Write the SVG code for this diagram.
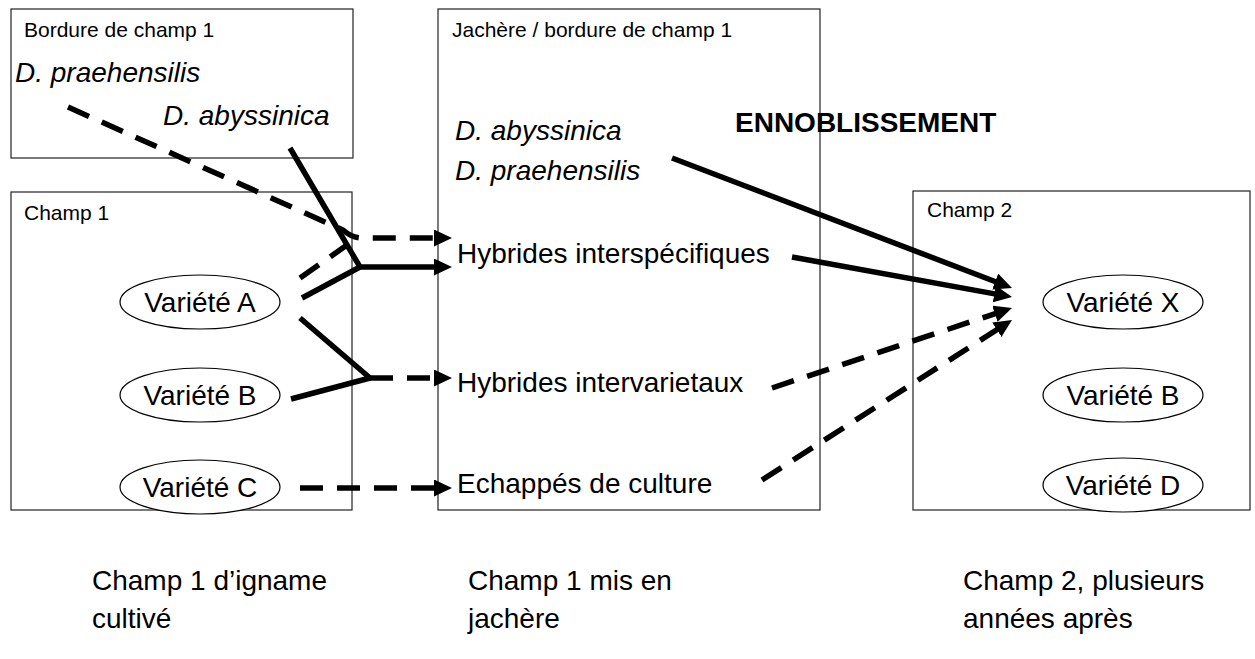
<svg xmlns="http://www.w3.org/2000/svg" width="1255" height="659" viewBox="0 0 1255 659">
<style>
text{font-family:"Liberation Sans",Arial,sans-serif;fill:#000}
.lbl{font-size:21px}
.t{font-size:28px}
.it{font-size:28px;font-style:italic}
.b{font-size:28px;font-weight:bold}
.box{fill:none;stroke:#222;stroke-width:1.2}
.ell{fill:#fff;stroke:#000;stroke-width:1.2}
.c{fill:none;stroke:#000;stroke-width:5.5}
.d{stroke-dasharray:23 14}
</style>
<defs>
<marker id="ah" markerUnits="userSpaceOnUse" markerWidth="18" markerHeight="17" viewBox="0 0 18 17" refX="6" refY="8.5" orient="auto">
<path d="M0,0 L18,8.5 L0,17 z" fill="#000"/>
</marker>
</defs>
<g id="bordure">
<rect class="box" x="11" y="9" width="342" height="149"/>
<text class="lbl" x="24" y="37">Bordure de champ 1</text>
<text class="it" x="15" y="82">D. praehensilis</text>
<text class="it" x="163" y="125">D. abyssinica</text>
</g>
<g id="champ1">
<rect class="box" x="11" y="192" width="341" height="318"/>
<text class="lbl" x="24" y="220">Champ 1</text>
</g>
<g id="jachere">
<rect class="box" x="438" y="9" width="382" height="501"/>
<text class="lbl" x="452" y="37">Jachère / bordure de champ 1</text>
<text class="it" x="455" y="140">D. abyssinica</text>
<text class="it" x="455" y="180">D. praehensilis</text>
<text class="t" x="457" y="263">Hybrides interspécifiques</text>
<text class="t" x="457" y="392">Hybrides intervarietaux</text>
<text class="t" x="457" y="493">Echappés de culture</text>
</g>
<g id="champ2">
<rect class="box" x="913" y="191" width="337" height="319"/>
<text class="lbl" x="927" y="217">Champ 2</text>
</g>
<g id="connectors">
<path class="c d" d="M68,107 L343,230 Q352,238 362,238 L440,238" marker-end="url(#ah)"/>
<path class="c" d="M290,148 L360,267 L440,267" marker-end="url(#ah)"/>
<path class="c d" d="M300,278 L347,245"/>
<path class="c" d="M302,298 L360,267"/>
<path class="c" d="M300,318 L370,378 M291,399 L370,378"/>
<path class="c d" d="M370,378 L440,378" marker-end="url(#ah)"/>
<path class="c d" d="M300,488 L440,488" marker-end="url(#ah)"/>
<path class="c" d="M672,158 L1000.8,283.7" marker-end="url(#ah)"/>
<path class="c" d="M792,257 L1000.2,294.9" marker-end="url(#ah)"/>
<path class="c d" d="M772,388 L1000.6,311.8" marker-end="url(#ah)"/>
<path class="c d" d="M762,480 L1001.9,326.5" marker-end="url(#ah)"/>
</g>
<g id="varA"><ellipse class="ell" cx="200" cy="302" rx="80" ry="27"/><text class="t" x="200" y="312" text-anchor="middle">Variété A</text></g>
<g id="varB"><ellipse class="ell" cx="200" cy="395" rx="80" ry="27"/><text class="t" x="200" y="405" text-anchor="middle">Variété B</text></g>
<g id="varC"><ellipse class="ell" cx="200" cy="487" rx="80" ry="27"/><text class="t" x="200" y="497" text-anchor="middle">Variété C</text></g>
<g id="varX"><ellipse class="ell" cx="1123" cy="302" rx="80" ry="27"/><text class="t" x="1123" y="312" text-anchor="middle">Variété X</text></g>
<g id="varB2"><ellipse class="ell" cx="1123" cy="395" rx="80" ry="27"/><text class="t" x="1123" y="405" text-anchor="middle">Variété B</text></g>
<g id="varD"><ellipse class="ell" cx="1123" cy="485" rx="80" ry="27"/><text class="t" x="1123" y="495" text-anchor="middle">Variété D</text></g>
<g id="ennoblissement"><text class="b" x="735" y="132">ENNOBLISSEMENT</text></g>
<g id="captions">
<text class="t" x="92" y="590">Champ 1 d’igname</text>
<text class="t" x="92" y="628">cultivé</text>
<text class="t" x="468" y="590">Champ 1 mis en</text>
<text class="t" x="468" y="628">jachère</text>
<text class="t" x="963" y="590">Champ 2, plusieurs</text>
<text class="t" x="963" y="628">années après</text>
</g>
</svg>
